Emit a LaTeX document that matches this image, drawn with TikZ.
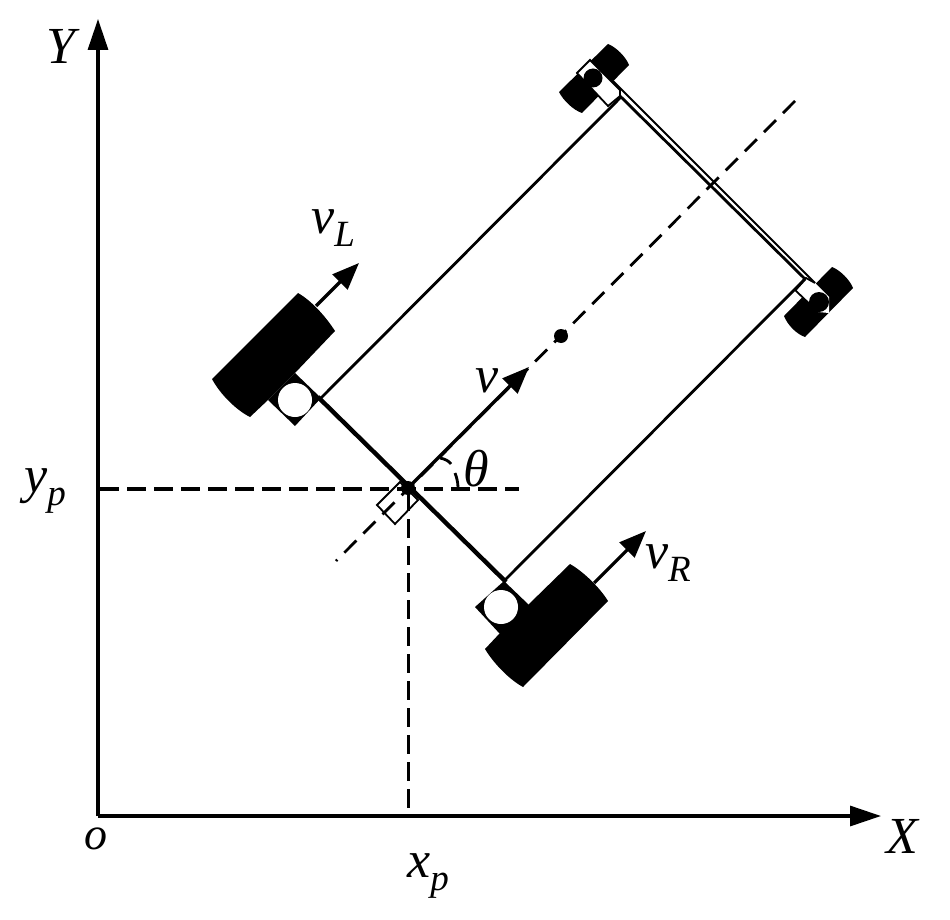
\documentclass[tikz,border=0pt]{standalone}
\usepackage{fontspec}
\setmainfont{Liberation Serif}
\usetikzlibrary{arrows.meta}
\newcommand{\lab}[2]{\textit{#1}\raisebox{-.26em}{\fontsize{37}{37}\selectfont\textit{#2}}}
\tikzset{
  axisline/.style={line width=3.2pt,-{Triangle[length=31pt,width=20pt]}},
  velarrow/.style={line width=3.2pt,-{Triangle[length=27pt,width=21pt]}},
  axleline/.style={line width=4.4pt},
  bodyline/.style={line width=2.8pt},
  thinline/.style={line width=1.8pt},
  guideline/.style={line width=3.2pt,dash pattern=on 19pt off 8pt},
  centreline/.style={line width=2.8pt,dash pattern=on 17pt off 10pt},
  wheelfill/.style={fill=black,draw=none},
  hub/.style={fill=white,draw=none},
  lbl/.style={inner sep=0pt,font=\fontsize{52}{52}\selectfont}
}
\begin{document}
\begin{tikzpicture}[x=1pt,y=-1pt]
\useasboundingbox (0,0) rectangle (950,920);
% key points
\coordinate (origin) at (98,816);
\coordinate (yend) at (98,19);
\coordinate (xend) at (881,816);
\coordinate (P) at (408,488);
\coordinate (yleft) at (100,489);
\coordinate (yright) at (519,489);
\coordinate (xbottom) at (408.5,816);
\coordinate (xtop) at (408.5,492);
\coordinate (axleL) at (318,397);
\coordinate (axleR) at (506,582);
\coordinate (bodyRL) at (320,399);
\coordinate (bodyRR) at (505,580);
\coordinate (bodyFL) at (621,97);
\coordinate (bodyFR) at (805,279);
\coordinate (outerA) at (613,81);
\coordinate (outerB) at (815,283);
\coordinate (clineA) at (336,561);
\coordinate (clineB) at (795,101);
\coordinate (vtip) at (529,367);
\coordinate (vLa) at (316,306);
\coordinate (vLb) at (359,263);
\coordinate (vRa) at (594,583);
\coordinate (vRb) at (646,531);
% body
\draw[bodyline] (bodyRL) -- (bodyFL) -- (bodyFR) -- (bodyRR);
\draw[thinline] (outerA) -- (outerB);
% centre line
\draw[centreline] (clineB) -- (clineA);
% guides
\draw[guideline] (yleft) -- (yright);
\draw[guideline] (xtop) -- (xbottom);
% axes
\draw[axisline] (origin) -- (yend);
\draw[axisline] (origin) -- (xend);
% arrows
\draw[velarrow] (vLa) -- (vLb);
\draw[velarrow] (vRa) -- (vRb);
\draw[velarrow] (P) -- (vtip);
% rear wheels
\fill[wheelfill] (298,293) .. controls (312,301) and (326,317) .. (335,331) -- (295,373) -- (268,400) -- (250,417)
  .. controls (236,410) and (220,394) .. (212,379) -- cycle;
\fill[wheelfill] (295,373) -- (321,398) -- (295,426) -- (268,400) -- cycle;
\fill[hub] (295,400) circle[radius=17];
\fill[wheelfill] (570,564) .. controls (584,572) and (600,588) .. (608,601) -- (523,687)
  .. controls (510,680) and (494,664) .. (485,649) -- (500,633) -- (528,605) -- cycle;
\fill[wheelfill] (504,581) -- (529,605) -- (500,634) -- (475,607) -- cycle;
\fill[hub] (501,607) circle[radius=17];
% front wheels
\fill[wheelfill] (608,44) .. controls (616,47) and (626,57) .. (629,65) -- (582,113)
  .. controls (573,110) and (563,100) .. (559,92) -- cycle;
\draw[thinline,fill=white] (577,73) -- (590,60) -- (620,90) -- (620,96) -- (608,106) -- cycle;
\fill[wheelfill] (593,78) circle[radius=9.5];
\fill[wheelfill] (832,267) .. controls (840,270) and (850,280) .. (853,288) -- (805,337)
  .. controls (796,334) and (787,324) .. (784,316) -- cycle;
\fill[white] (795,290) -- (806,278) -- (815,283) -- (829,297) -- (829,313) -- (818,312) -- cycle;
\draw[thinline] (818,312) -- (795,290) -- (806,278) -- (815,283);
\fill[wheelfill] (819,302) circle[radius=10];
\draw[bodyline] (bodyFR) -- (795,290);
% centre marks
\draw[thinline] (400,482) -- (418,500) -- (395,524) -- (377,505) -- cycle;
\fill (P) circle[radius=7];
\fill (561,336) circle[radius=7];
\draw[axleline] (axleL) -- (axleR);
% angle
\draw[bodyline] (440,458) .. controls (445,459) and (449,461) .. (451,464);
\draw[bodyline] (455,473) .. controls (457,478) and (458,483) .. (458,488);
% labels
\node[lbl] (lY) at (63,46) {\textit{Y}};
\node[lbl] (lX) at (903,836) {\textit{X}};
\node[lbl,font=\fontsize{46}{46}\selectfont] (lo) at (96,839) {\textit{o}};
\node[lbl] (lxp) at (428,876) {\lab{x}{p}};
\node[lbl] (lyp) at (45,491) {\lab{y}{p}};
\node[lbl] (lvL) at (333,228) {\lab{v}{L}};
\node[lbl] (lvR) at (668,563) {\lab{v}{R}};
\node[lbl] (lv) at (487,381) {\textit{v}};
\node[lbl] (lth) at (476,469) {\textit{θ}};
\end{tikzpicture}
\end{document}
